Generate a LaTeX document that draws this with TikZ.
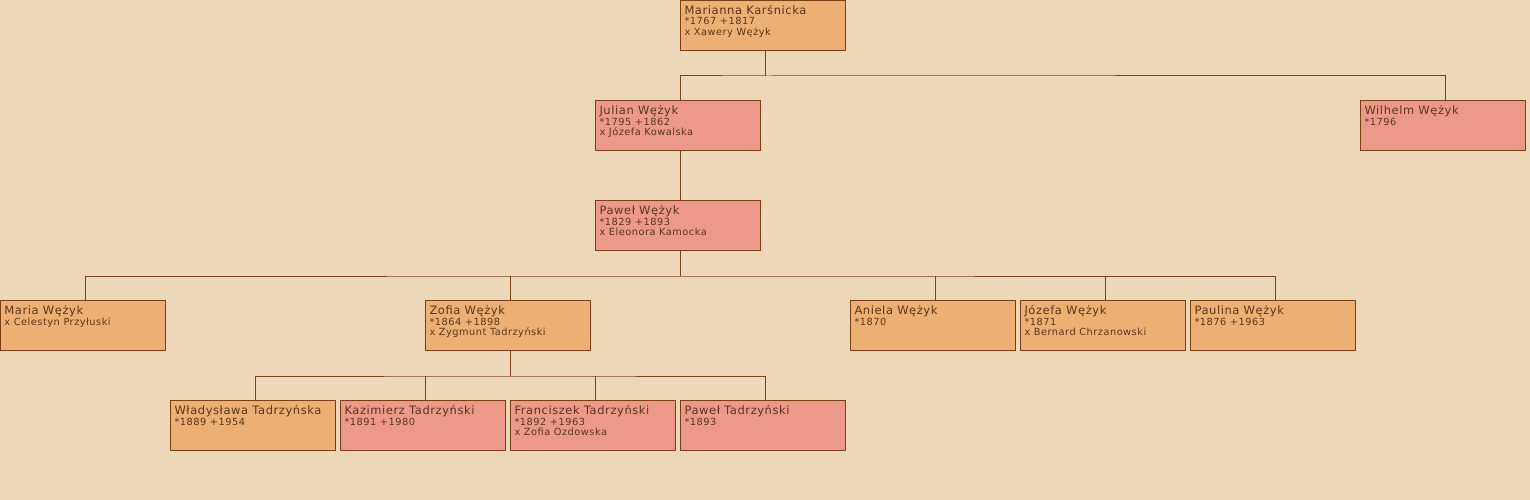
\documentclass[tikz,border=0pt]{standalone}
\usepackage{fontspec}
\setmainfont{DejaVu Sans}[LetterSpace=5]
\usepackage{xcolor}
\usetikzlibrary{positioning}
\definecolor{bgc}{RGB}{237,215,185}
\definecolor{orangec}{RGB}{237,175,116}
\definecolor{pinkc}{RGB}{237,153,137}
\definecolor{linec}{RGB}{120,64,20}
\definecolor{textc}{RGB}{90,55,25}
\newcommand{\namefont}{\fontsize{11.5}{11.5}\selectfont}
\newcommand{\datafont}{\fontsize{9.8}{10.5}\selectfont}
\newcommand{\pers}[2]{\parbox[t][44pt][t]{157pt}{\raggedright\rule{0pt}{11pt}\namefont #1\par\datafont #2}}
\tikzset{
  person/.style={rectangle, draw=linec, line width=1pt, anchor=north west, minimum width=165pt, minimum height=50pt, inner xsep=4pt, inner ysep=3pt, text=textc, align=left},
  female/.style={person, fill=orangec},
  male/.style={person, fill=pinkc},
  tree/.style={draw=linec, line width=1pt},
}
\begin{document}
\begin{tikzpicture}[x=1pt, y=-1pt, node distance=4pt]
\fill[bgc] (0,0) rectangle (1530,500);
\useasboundingbox (0,0) rectangle (1530,500);

\node[female] (marianna) at (680,0) {\pers{Marianna Karśnicka}{*1767 +1817\\x Xawery Wężyk}};
\node[male] (julian) at (595,100) {\pers{Julian Wężyk}{*1795 +1862\\x Józefa Kowalska}};
\node[male] (wilhelm) at (1360,100) {\pers{Wilhelm Wężyk}{*1796}};
\node[male, below=49pt of julian] (pawel) {\pers{Paweł Wężyk}{*1829 +1893\\x Eleonora Kamocka}};
\node[female] (maria) at (0,300) {\pers{Maria Wężyk}{x Celestyn Przyłuski}};
\node[female] (zofia) at (425,300) {\pers{Zofia Wężyk}{*1864 +1898\\x Zygmunt Tadrzyński}};
\node[female] (aniela) at (850,300) {\pers{Aniela Wężyk}{*1870}};
\node[female, right=of aniela] (jozefa) {\pers{Józefa Wężyk}{*1871\\x Bernard Chrzanowski}};
\node[female, right=of jozefa] (paulina) {\pers{Paulina Wężyk}{*1876 +1963}};
\node[female] (wladyslawa) at (170,400) {\pers{Władysława Tadrzyńska}{*1889 +1954}};
\node[male, right=of wladyslawa] (kazimierz) {\pers{Kazimierz Tadrzyński}{*1891 +1980}};
\node[male, right=of kazimierz] (franciszek) {\pers{Franciszek Tadrzyński}{*1892 +1963\\x Zofia Ozdowska}};
\node[male, right=of franciszek] (pawelT) {\pers{Paweł Tadrzyński}{*1893}};

% family lines
\draw[tree] ([xshift=2.5pt]marianna.south) -- ++(0,25) coordinate (m1);
\draw[tree] ([xshift=2.5pt]julian.north) |- (m1) -| ([xshift=2.5pt]wilhelm.north);
\draw[tree] ([xshift=2.5pt]julian.south) -- ([xshift=2.5pt]pawel.north);
\draw[tree] ([xshift=2.5pt]pawel.south) -- ++(0,25) coordinate (p1);
\draw[tree] ([xshift=2.5pt]maria.north) |- (p1) -| ([xshift=2.5pt]paulina.north);
\foreach \kid in {zofia, aniela, jozefa}
  \draw[tree] ([xshift=2.5pt]\kid.north) -- ([xshift=2.5pt]\kid.north |- p1);
\draw[tree] ([xshift=2.5pt]zofia.south) -- ++(0,25) coordinate (z1);
\draw[tree] ([xshift=2.5pt]wladyslawa.north) |- (z1) -| ([xshift=2.5pt]pawelT.north);
\foreach \kid in {kazimierz, franciszek}
  \draw[tree] ([xshift=2.5pt]\kid.north) -- ([xshift=2.5pt]\kid.north |- z1);
\end{tikzpicture}
\end{document}
